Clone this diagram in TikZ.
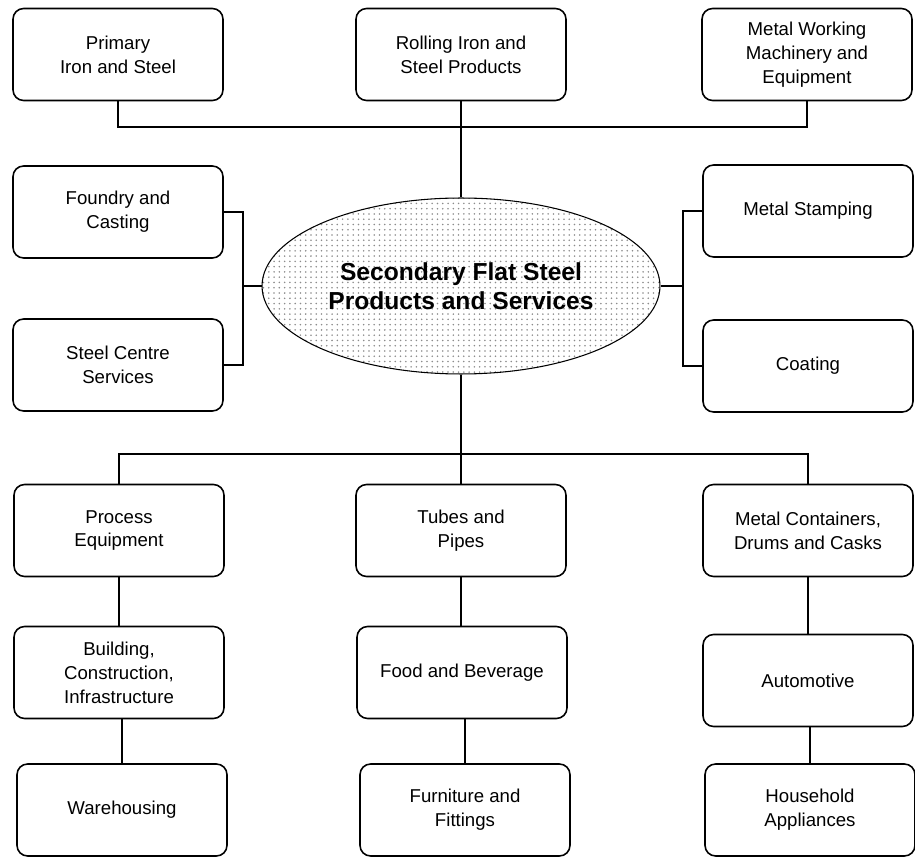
\documentclass[tikz,border=0pt]{standalone}
\usepackage{fontspec}
\setmainfont{Liberation Sans}
\usetikzlibrary{shapes.geometric}
\usetikzlibrary{patterns}

\tikzset{
  box/.style={shape=rectangle,rounded corners=6pt,draw=black,line width=0.9pt,
    minimum width=4.2cm,minimum height=1.84cm,align=center,
    font=\fontsize{10.6}{13.6}\selectfont},
  hub/.style={shape=ellipse,draw=black,line width=0.6pt,
    minimum width=7.96cm,minimum height=3.52cm,align=center,
    pattern=dots,pattern color=black!45,
    font=\fontsize{14}{16.5}\selectfont\bfseries},
  link/.style={draw=black,line width=0.7pt}
}

\begin{document}
\begin{tikzpicture}[x=0.02cm,y=-0.02cm]
    \useasboundingbox (0,0) rectangle (915,857);

    \node[box] (A) at (118,54.5) {Primary\\Iron and Steel};
    \node[box] (B) at (461,54.5) {Rolling Iron and\\Steel Products};
    \node[box] (C) at (807,54.5) {Metal Working\\Machinery and\\Equipment};

    \node[box] (D) at (118,212) {Foundry and\\Casting};
    \node[box] (F) at (118,365) {Steel Centre\\Services};
    \node[hub] (E) at (461,286) {Secondary Flat Steel\\Products and Services};
    \node[box] (G) at (808,211) {Metal Stamping};
    \node[box] (H) at (808,366) {Coating};

    \node[box] (I) at (119,530.5) {Process\\Equipment};
    \node[box] (J) at (461,530.5) {Tubes and\\Pipes};
    \node[box] (K) at (808,530.5) {Metal Containers,\\Drums and Casks};
    \node[box] (L) at (119,672.5) {Building,\\Construction,\\Infrastructure};
    \node[box] (M) at (462,672.5) {Food and Beverage};
    \node[box] (N) at (808,680.5) {Automotive};
    \node[box] (O) at (122,810) {Warehousing};
    \node[box] (P) at (465,810) {Furniture and\\Fittings};
    \node[box] (Q) at (810,810) {Household\\Appliances};

    \coordinate (topbar) at (461,127);
    \coordinate (lbar) at (243,286);
    \coordinate (rbar) at (683,286);
    \coordinate (botbar) at (461,454);

    \draw [link] (A.south) |- (topbar) -| (C.south);
    \path [link] (B) edge (E);
    \draw [link] (D.east) -| (lbar) |- (F.east);
    \path [link] (lbar) edge (E);
    \draw [link] (G.west) -| (rbar) |- (H.west);
    \path [link] (E) edge (rbar);
    \draw [link] (E.south) -- (J.north);
    \draw [link] (I.north) |- (botbar) -| (K.north);
    \path [link] (I) edge (L);
    \path [link] (J.south) edge (J.south |- M.north);
    \path [link] (K) edge (N);
    \path [link] (O.north) edge (O.north |- L.south);
    \path [link] (P.north) edge (P.north |- M.south);
    \path [link] (Q.north) edge (Q.north |- N.south);
\end{tikzpicture}
\end{document}
